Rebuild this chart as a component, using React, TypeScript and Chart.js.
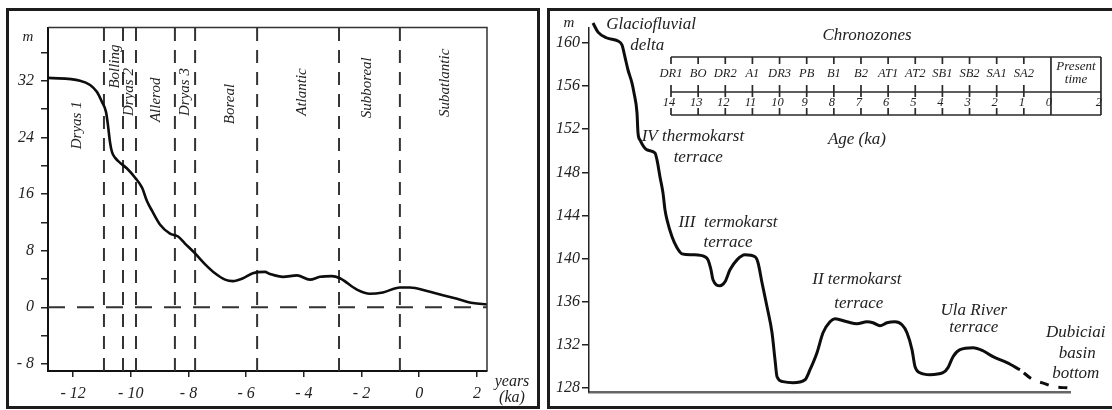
import { useEffect, useRef } from "react";
import { Chart, registerables } from "chart.js";

Chart.register(...registerables);

// ---------- Left panel: water level (m) against age (ka) ----------
const levelAge = [
  -12.87, -11.76, -11.41, -11.17, -11.0, -10.86, -10.79, -10.72, -10.65, -10.54,
  -10.37, -10.13, -9.85, -9.61, -9.44, -9.26, -8.99, -8.64, -8.36, -8.12,
  -7.77, -7.43, -7.08, -6.73, -6.46, -6.11, -5.77, -5.35, -5.17, -4.72,
  -4.24, -3.79, -3.44, -3.03, -2.75, -2.16, -1.71, -1.26, -0.67, -0.32,
  0.27, 0.82, 1.31, 1.86, 2.35,
];
const levelM = [
  32.4, 32.0, 31.4, 30.4, 29.0, 27.6, 25.7, 23.3, 21.9, 21.1,
  20.4, 19.6, 18.3, 16.9, 15.0, 13.6, 11.7, 10.4, 10.0, 9.0,
  7.6, 6.1, 4.8, 3.9, 3.7, 4.1, 4.8, 5.0, 4.7, 4.3,
  4.5, 3.9, 4.3, 4.4, 4.1, 2.5, 1.9, 2.1, 2.8, 2.8,
  2.3, 1.7, 1.2, 0.6, 0.4,
];

// Chronozone boundaries (ka) and names
const zoneBoundaries = [-10.93, -10.27, -9.82, -8.47, -7.77, -5.62, -2.78, -0.67];
const zoneNames = ["Dryas 1", "Bolling", "Dryas 2", "Allerod", "Dryas 3", "Boreal", "Atlantic", "Subboreal", "Subatlantic"];
// where each rotated name is centred (age ka, level m)
const zoneNameAge = [-11.86, -10.56, -10.07, -9.12, -8.12, -6.56, -4.07, -1.81, 0.89];
const zoneNameLevel = [25.7, 34.0, 30.4, 29.3, 30.4, 28.7, 30.4, 31.0, 31.7];

const ageTicks = [-12, -10, -8, -6, -4, -2, 0, 2];
const levelTicks = [-8, -4, 0, 4, 8, 12, 16, 20, 24, 28, 32, 36];
const AGE_MIN = -12.87;
const AGE_MAX = 2.35;
const LEVEL_MIN = -9;
const LEVEL_MAX = 39.5;

// ---------- Right panel: terrace profile (m a.s.l.) ----------
const profileDist = [
  0.83, 1.87, 3.74, 6.03, 6.86, 7.48, 8.11, 8.94, 9.36, 9.98,
  10.19, 10.6, 12.06, 13.72, 14.14, 14.76, 15.38, 15.8, 16.22, 17.26,
  18.3, 19.33, 21.62, 24.12, 24.74, 25.36, 25.78, 27.23, 28.27, 29.31,
  30.77, 32.43, 34.51, 35.14, 35.97, 37.01, 38.05, 38.67, 39.09, 40.33,
  42.41, 44.91, 45.95, 47.4, 48.65, 50.1, 51.14, 53.64, 55.72, 57.8,
  59.04, 60.5, 61.95, 63.62, 65.07, 66.11, 67.15, 67.78, 68.81, 70.89,
  73.6, 74.64, 75.68, 77.13, 79.83, 81.91, 84.0, 86.9, 89.6,
];
const profileElev = [
  161.86, 161.02, 160.47, 160.19, 159.82, 158.7, 157.5, 156.29, 155.37, 153.51,
  151.65, 151.01, 150.08, 149.8, 149.15, 147.57, 146.09, 144.51, 143.58, 142.01,
  140.99, 140.43, 140.34, 140.15, 139.87, 138.95, 138.02, 137.46, 137.83, 138.95,
  139.87, 140.34, 140.15, 139.6, 137.74, 135.51, 133.1, 130.6, 129.02, 128.56,
  128.46, 128.74, 129.67, 131.25, 133.1, 134.12, 134.4, 134.12, 133.94, 134.12,
  134.03, 133.75, 134.03, 134.12, 133.84, 133.1, 131.53, 129.95, 129.39, 129.21,
  129.39, 129.86, 130.88, 131.53, 131.71, 131.43, 130.88, 130.32, 129.67,
];
// inferred continuation towards the basin bottom (dashed)
const basinDist = [89.6, 92.3, 94.6, 96.5, 99.6];
const basinElev = [129.67, 128.74, 128.4, 128.1, 127.98];

const elevTicks = [128, 132, 136, 140, 144, 148, 152, 156, 160];
const ELEV_MIN = 127.6;
const ELEV_MAX = 161.4;

// Text labels of the profile (distance, elevation of the text centre)
const profileLabels = [
  "Glaciofluvial", "delta",
  "IV thermokarst", "terrace",
  "III  termokarst", "terrace",
  "II termokarst", "terrace",
  "Ula River", "terrace",
  "Dubiciai", "basin", "bottom",
  "Chronozones", "Age (ka)",
];
const profileLabelDist = [12.9, 12.1, 21.6, 22.7, 28.9, 28.9, 55.7, 56.1, 80.0, 80.0, 101.2, 101.5, 101.2, 57.8, 55.7];
const profileLabelElev = [161.7, 159.8, 151.3, 149.4, 143.3, 141.5, 138.0, 135.8, 135.2, 133.6, 133.1, 131.2, 129.3, 160.7, 151.0];

// Chronozone scale of the inset
const chronoCodes = ["DR1", "BO", "DR2", "A1", "DR3", "PB", "B1", "B2", "AT1", "AT2", "SB1", "SB2", "SA1", "SA2"];
const chronoAges = [14, 13, 12, 11, 10, 9, 8, 7, 6, 5, 4, 3, 2, 1];
const chronoAgeLabels = ["14", "13", "12", "11", "10", "9", "8", "7", "6", "5", "4", "3", "2", "1", "0"];

const SERIF = '"Liberation Serif", "Times New Roman", serif';
const INK = "#222";

const fmtSigned = (v: number) => (v < 0 ? `- ${Math.abs(v)}` : `${v}`);

function italic(size: number) {
  return `italic ${size}px ${SERIF}`;
}

const leftDecor = {
  id: "leftDecor",
  afterDraw(chart: any) {
    const { ctx, chartArea: a, scales } = chart;
    const x = scales.x;
    const y = scales.y;
    ctx.save();
    // plot frame (top and right)
    ctx.strokeStyle = "#333";
    ctx.lineWidth = 1.5;
    ctx.beginPath();
    ctx.moveTo(a.left, a.top);
    ctx.lineTo(a.right, a.top);
    ctx.lineTo(a.right, a.bottom);
    ctx.stroke();

    ctx.fillStyle = INK;
    ctx.textAlign = "center";
    ctx.textBaseline = "middle";
    ctx.font = italic(15);
    zoneNames.forEach((name, i) => {
      const px = x.getPixelForValue(zoneNameAge[i]);
      const py = y.getPixelForValue(zoneNameLevel[i]);
      ctx.save();
      ctx.translate(px, py);
      ctx.rotate(-Math.PI / 2);
      ctx.fillText(name, 0, 0);
      ctx.restore();
    });

    ctx.font = italic(15);
    ctx.fillText("m", a.left - 20, a.top + 9);
    ctx.font = italic(16);
    ctx.fillText("years", a.right + 25, a.bottom + 11);
    ctx.fillText("(ka)", a.right + 25, a.bottom + 27);
    ctx.restore();
  },
};

const rightDecor = {
  id: "rightDecor",
  afterDraw(chart: any) {
    const { ctx, chartArea: a, scales } = chart;
    const x = scales.x;
    const y = scales.y;
    ctx.save();
    ctx.fillStyle = INK;
    ctx.textAlign = "center";
    ctx.textBaseline = "middle";
    ctx.font = italic(15);
    ctx.fillText("m", a.left - 20, a.top - 5);

    ctx.font = italic(17);
    profileLabels.forEach((t, i) => {
      ctx.fillText(t, x.getPixelForValue(profileLabelDist[i]), y.getPixelForValue(profileLabelElev[i]));
    });

    // chronozone inset
    const step = 27.14;
    const left = a.left + 82;
    const ageX = (age: number) => left + (14 - age) * step;
    const top = a.top + 29;
    const mid = top + 35;
    const bot = top + 58;
    const zeroX = ageX(0);
    const right = zeroX + 50;

    ctx.strokeStyle = "#2a2a2a";
    ctx.lineWidth = 1.7;
    ctx.beginPath();
    [top, mid, bot].forEach((yy) => {
      ctx.moveTo(left, yy);
      ctx.lineTo(right, yy);
    });
    chronoAges.forEach((age) => {
      const px = ageX(age);
      ctx.moveTo(px, top);
      ctx.lineTo(px, top + 7);
      ctx.moveTo(px, mid - 7);
      ctx.lineTo(px, mid + 5);
      ctx.moveTo(px, bot - 7);
      ctx.lineTo(px, bot);
    });
    ctx.moveTo(zeroX, top);
    ctx.lineTo(zeroX, bot);
    ctx.moveTo(right, top);
    ctx.lineTo(right, bot);
    ctx.stroke();

    ctx.font = italic(12.5);
    chronoCodes.forEach((c, i) => {
      ctx.fillText(c, ageX(chronoAges[i]), top + 17);
    });
    chronoAgeLabels.forEach((t, i) => {
      ctx.fillText(t, ageX(14 - i) - 2, mid + 11);
    });
    ctx.fillText("2", right - 2, mid + 11);
    ctx.font = italic(13);
    ctx.fillText("Present", (zeroX + right) / 2, top + 10);
    ctx.fillText("time", (zeroX + right) / 2, top + 23);
    ctx.restore();
  },
};

function LeftPanel() {
  const ref = useRef<HTMLCanvasElement | null>(null);
  useEffect(() => {
    if (!ref.current) return;
    const dashed = zoneBoundaries.map((b) => ({
      data: [
        { x: b, y: LEVEL_MIN },
        { x: b, y: LEVEL_MAX },
      ],
      borderColor: "#333",
      borderWidth: 2,
      borderDash: [13, 9],
      pointRadius: 0,
    }));
    const chart = new Chart(ref.current, {
      type: "line",
      data: {
        datasets: [
          {
            data: levelAge.map((a, i) => ({ x: a, y: levelM[i] })),
            borderColor: "#0d0d0d",
            borderWidth: 2.6,
            pointRadius: 0,
            cubicInterpolationMode: "monotone",
          },
          {
            data: [
              { x: AGE_MIN, y: 0 },
              { x: AGE_MAX, y: 0 },
            ],
            borderColor: "#333",
            borderWidth: 2,
            borderDash: [17, 12],
            pointRadius: 0,
          },
          ...dashed,
        ],
      } as any,
      options: {
        responsive: false,
        animation: false,
        devicePixelRatio: 1,
        layout: { padding: { left: 0, top: 11, right: 49, bottom: 0 } },
        plugins: { legend: { display: false }, tooltip: { enabled: false } },
        scales: {
          x: {
            type: "linear",
            min: AGE_MIN,
            max: AGE_MAX,
            afterBuildTicks: (s: any) => {
              s.ticks = ageTicks.map((value) => ({ value }));
            },
            afterFit: (s: any) => {
              s.height = 35;
            },
            ticks: {
              callback: (v: any) => fmtSigned(Number(v)),
              font: { family: SERIF, size: 16, style: "italic" },
              color: INK,
              padding: 7,
              maxRotation: 0,
              autoSkip: false,
            },
            grid: { drawOnChartArea: false, tickLength: 6, color: "#222", lineWidth: 1.5 },
            border: { color: "#111", width: 2 },
          },
          y: {
            type: "linear",
            min: LEVEL_MIN,
            max: LEVEL_MAX,
            afterBuildTicks: (s: any) => {
              s.ticks = levelTicks.map((value) => ({ value }));
            },
            afterFit: (s: any) => {
              s.width = 39;
            },
            ticks: {
              callback: (v: any) => (Number(v) % 8 === 0 ? fmtSigned(Number(v)) : ""),
              font: { family: SERIF, size: 16, style: "italic" },
              color: INK,
              padding: 7,
              autoSkip: false,
            },
            grid: { drawOnChartArea: false, tickLength: 7, color: "#222", lineWidth: 1.5 },
            border: { color: "#111", width: 2 },
          },
        },
      } as any,
      plugins: [leftDecor],
    });
    return () => chart.destroy();
  }, []);
  return (
    <canvas
      ref={ref}
      width={527}
      height={395}
      style={{ position: "absolute", left: 9, top: 11, width: 527, height: 395, display: "block" }}
    />
  );
}

function RightPanel() {
  const ref = useRef<HTMLCanvasElement | null>(null);
  useEffect(() => {
    if (!ref.current) return;
    const chart = new Chart(ref.current, {
      type: "line",
      data: {
        datasets: [
          {
            data: profileDist.map((d, i) => ({ x: d, y: profileElev[i] })),
            borderColor: "#0d0d0d",
            borderWidth: 3,
            pointRadius: 0,
            cubicInterpolationMode: "monotone",
            clip: false,
          },
          {
            data: basinDist.map((d, i) => ({ x: d, y: basinElev[i] })),
            borderColor: "#0d0d0d",
            borderWidth: 3,
            borderDash: [9, 10],
            borderDashOffset: 14,
            pointRadius: 0,
            cubicInterpolationMode: "monotone",
            clip: false,
          },
        ],
      } as any,
      options: {
        responsive: false,
        animation: false,
        devicePixelRatio: 1,
        layout: { padding: { left: 0, top: 17, right: 42, bottom: 0 } },
        plugins: { legend: { display: false }, tooltip: { enabled: false } },
        scales: {
          x: {
            type: "linear",
            min: 0,
            max: 100,
            afterFit: (s: any) => {
              s.height = 14;
            },
            ticks: { display: false },
            grid: { display: false, drawOnChartArea: false, drawTicks: false },
            border: { color: "#666", width: 2.5 },
          },
          y: {
            type: "linear",
            min: ELEV_MIN,
            max: ELEV_MAX,
            afterBuildTicks: (s: any) => {
              s.ticks = elevTicks.map((value) => ({ value }));
            },
            afterFit: (s: any) => {
              s.width = 39;
            },
            ticks: {
              font: { family: SERIF, size: 16, style: "italic" },
              color: INK,
              padding: 2,
              autoSkip: false,
            },
            grid: { drawOnChartArea: false, tickLength: 7, color: "#222", lineWidth: 1.5 },
            border: { color: "#222", width: 1.5 },
          },
        },
      } as any,
      plugins: [rightDecor],
    });
    return () => chart.destroy();
  }, []);
  return (
    <canvas
      ref={ref}
      width={562}
      height={395}
      style={{ position: "absolute", left: 550, top: 11, width: 562, height: 395, display: "block" }}
    />
  );
}

export default function App() {
  return (
    <div
      style={{
        position: "absolute",
        left: 0,
        top: 0,
        width: 1112,
        height: 410,
        overflow: "hidden",
        background: "#fff",
      }}
    >
      <div style={{ position: "absolute", left: 6, top: 8, width: 528, height: 395, border: "3px solid #1c1c1c" }} />
      <div style={{ position: "absolute", left: 547, top: 8, width: 600, height: 395, border: "3px solid #1c1c1c" }} />
      <LeftPanel />
      <RightPanel />
    </div>
  );
}
